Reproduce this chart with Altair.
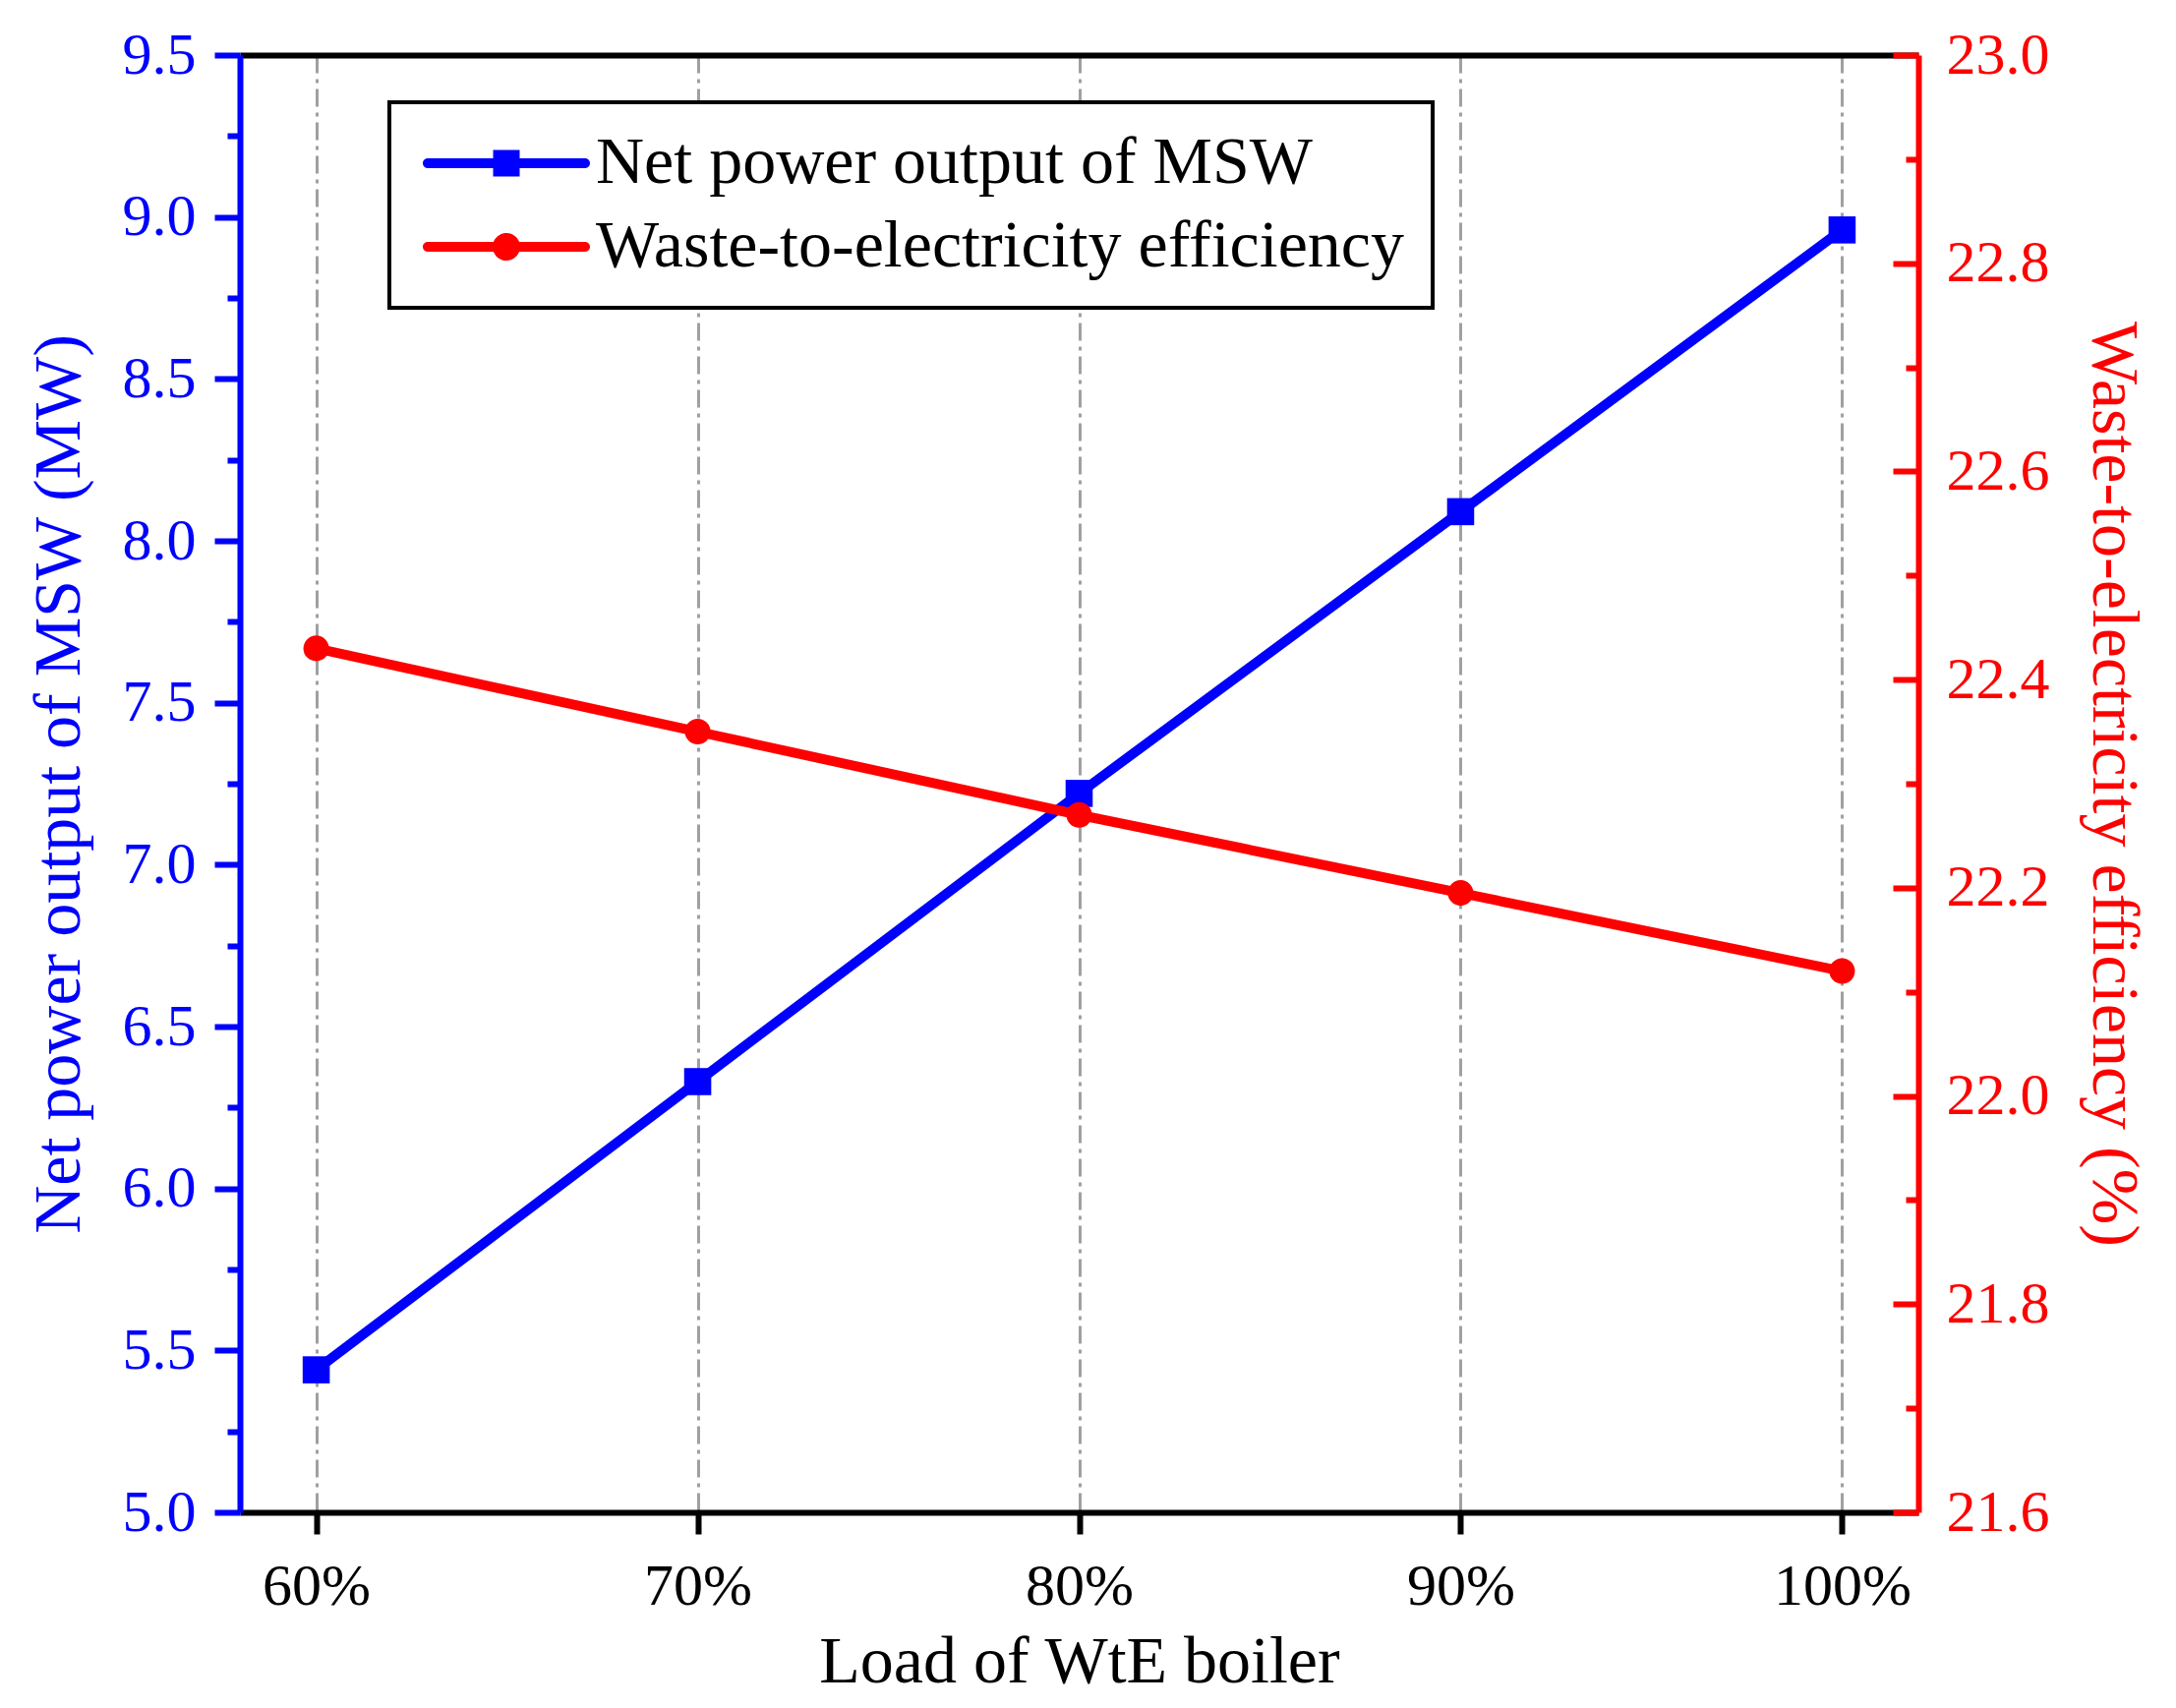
import altair as alt
import pandas as pd

# ---- data ----
loads = [60, 70, 80, 90, 100]
net_power = [5.44, 6.33, 7.22, 8.09, 8.96]
efficiency = [22.43, 22.35, 22.27, 22.195, 22.12]
series_names = ["Net power output of MSW", "Waste-to-electricity efficiency"]
series_colors = ["#0000FF", "#FF0000"]
x_ticks = [60, 70, 80, 90, 100]
left_ticks = [5.0, 5.25, 5.5, 5.75, 6.0, 6.25, 6.5, 6.75, 7.0, 7.25, 7.5, 7.75,
              8.0, 8.25, 8.5, 8.75, 9.0, 9.25, 9.5]
right_ticks = [21.6, 21.7, 21.8, 21.9, 22.0, 22.1, 22.2, 22.3, 22.4, 22.5,
               22.6, 22.7, 22.8, 22.9, 23.0]

power_df = pd.DataFrame({"load": loads, "power": net_power})
eff_df = pd.DataFrame({"load": loads, "eff": efficiency})
legend_df = pd.DataFrame({"series": series_names})

FONT = "Liberation Serif"
BLUE = "#0000FF"
RED = "#FF0000"

# legend symbols: line with marker (custom paths, unit = sqrt(size)/2 px)
sym_line = "M-4,-0.25H4A0.25,0.25 0 0,1 4,0.25H-4A0.25,0.25 0 0,1 -4,-0.25Z"
sym_square = sym_line + " M-0.675,-0.675H0.675V0.675H-0.675Z"
sym_circle = sym_line + " M-0.7,0A0.7,0.7 0 1,1 0.7,0A0.7,0.7 0 1,1 -0.7,0Z"

x_scale = alt.Scale(domain=[58, 102], nice=False, zero=False)

x_bottom = alt.X(
    "load:Q", scale=x_scale,
    axis=alt.Axis(
        orient="bottom", values=x_ticks, labelExpr="datum.value + '%'",
        title="Load of WtE boiler", grid=True, gridColor="#a0a0a0",
        gridDash=[18, 6, 4, 6], gridWidth=3,
        domainColor="black", domainWidth=6,
        tickColor="black", tickWidth=6, tickSize=22,
        labelFont=FONT, labelFontSize=60, labelColor="black", labelPadding=24,
        labelFlush=False,
        titleFont=FONT, titleFontSize=68, titleFontWeight="normal",
        titleColor="black", titlePadding=13,
    ),
)
x_top = alt.X(
    "load:Q", scale=x_scale,
    axis=alt.Axis(orient="top", domainColor="black", domainWidth=6,
                  ticks=False, labels=False, grid=False, title=None),
)

y_left = alt.Y(
    "power:Q", scale=alt.Scale(domain=[5.0, 9.5], nice=False, zero=False),
    axis=alt.Axis(
        orient="left", values=left_ticks, grid=False,
        labelExpr="round(datum.value*4) % 2 == 0 ? format(datum.value, '.1f') : ''",
        tickSize={"expr": "round(datum.value*4) % 2 == 0 ? 26 : 13"},
        tickColor=BLUE, tickWidth=6, domainColor=BLUE, domainWidth=6,
        labelFont=FONT, labelFontSize=60, labelColor=BLUE, labelPadding=19,
        title="Net power output of MSW (MW)", titleFont=FONT, titleFontSize=68,
        titleFontWeight="normal", titleColor=BLUE, titlePadding=30,
    ),
)
y_right = alt.Y(
    "eff:Q", scale=alt.Scale(domain=[21.6, 23.0], nice=False, zero=False),
    axis=alt.Axis(
        orient="right", values=right_ticks, grid=False,
        labelExpr="round(datum.value*10) % 2 == 0 ? format(datum.value, '.1f') : ''",
        tickSize={"expr": "round(datum.value*10) % 2 == 0 ? -26 : -13"},
        tickColor=RED, tickWidth=6, domainColor=RED, domainWidth=6,
        labelFont=FONT, labelFontSize=60, labelColor=RED, labelPadding=54,
        title="Waste-to-electricity efficiency (%)", titleFont=FONT, titleFontSize=68,
        titleFontWeight="normal", titleColor=RED, titlePadding=30,
    ),
)

leg = alt.Legend(
    title=None, orient="none", legendX=152, legendY=48,
    labelFont=FONT, labelFontSize=68, labelColor="black", labelLimit=3000,
    symbolSize=1600, symbolStrokeWidth=0, symbolOffset=57, labelOffset=57,
    rowPadding=17, padding=28, fillColor="white", strokeColor="black",
)

blue_line = alt.Chart(power_df).mark_line(color=BLUE, strokeWidth=10).encode(x=x_bottom, y=y_left)
blue_pts = alt.Chart(power_df).mark_point(
    shape="square", filled=True, size=760, color=BLUE, opacity=1
).encode(x=x_bottom, y=y_left)
legend_layer = alt.Chart(legend_df).transform_filter("false").mark_point(
    filled=True, opacity=1
).encode(
    color=alt.Color("series:N", scale=alt.Scale(domain=series_names, range=series_colors), legend=leg),
    shape=alt.Shape("series:N", scale=alt.Scale(domain=series_names, range=[sym_square, sym_circle]), legend=leg),
)
left = alt.layer(blue_line, blue_pts, legend_layer)

red_line = alt.Chart(eff_df).mark_line(color=RED, strokeWidth=10).encode(x=x_top, y=y_right)
red_pts = alt.Chart(eff_df).mark_point(
    shape="circle", filled=True, size=680, color=RED, opacity=1
).encode(x=x_top, y=y_right)
right = alt.layer(red_line, red_pts)

chart = alt.layer(left, right).resolve_scale(
    x="independent", y="independent"
).properties(
    width=1707, height=1482,
    autosize=alt.AutoSizeParams(type="none"),
    padding={"left": 236, "top": 48, "right": 254, "bottom": 190},
    background="white",
).configure(font=FONT).configure_view(strokeWidth=0).configure_legend(strokeWidth=4)

chart.save("out.html", embed_options={"renderer": "svg", "actions": False})
